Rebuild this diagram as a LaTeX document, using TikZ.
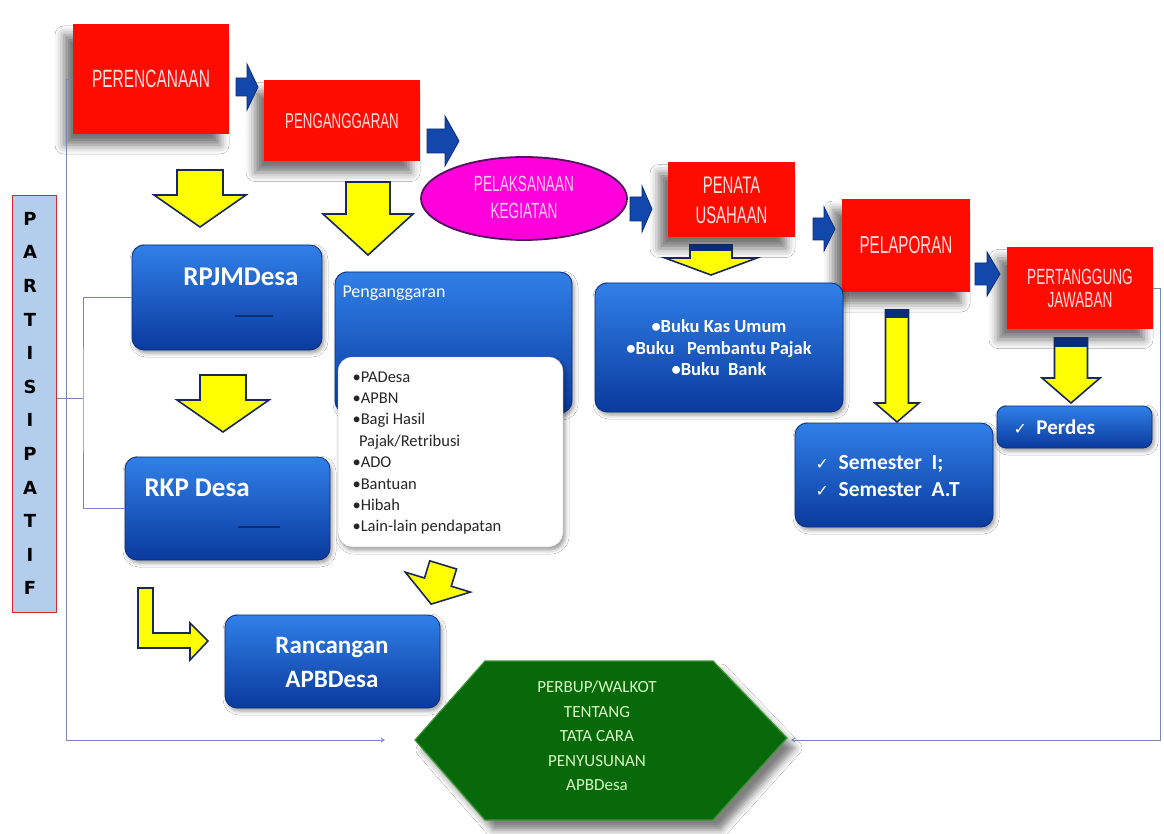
\documentclass[tikz,border=0pt]{standalone}
\usepackage{fontspec}
\setmainfont{Carlito}
\newfontfamily\cond[FakeStretch=0.62]{Liberation Sans}
\newfontfamily\dv{DejaVu Sans}
\usetikzlibrary{shadows.blur,calc,arrows.meta}
\definecolor{rbox}{RGB}{255,12,0}
\definecolor{rtxt}{RGB}{255,222,222}
\definecolor{btop}{RGB}{48,128,232}
\definecolor{bbot}{RGB}{10,58,158}
\definecolor{bedge}{RGB}{10,45,120}
\definecolor{yfill}{RGB}{255,255,0}
\definecolor{yedge}{RGB}{25,40,90}
\definecolor{connc}{RGB}{120,135,185}
\definecolor{magen}{RGB}{255,0,220}
\definecolor{magedge}{RGB}{80,20,90}
\definecolor{hexg}{RGB}{8,105,10}
\definecolor{hexe}{RGB}{60,150,50}
\definecolor{hext}{RGB}{215,250,195}
\definecolor{pbox}{RGB}{178,206,236}
\definecolor{pedge}{RGB}{215,40,40}
\definecolor{barc}{RGB}{18,72,172}
\newcommand\ydown[6]{%
  \draw[yarr] (#1-#3,#2) -- (#1+#3,#2) -- (#1+#3,#4) -- (#1+#5,#4) -- (#1,#6) -- (#1-#5,#4) -- (#1-#3,#4) -- cycle;}
\newcommand\bright[6]{%
  \draw[barr] (#1,#4-#5) -- (#2,#4-#5) -- (#2,#4-#6) -- (#3,#4) -- (#2,#4+#6) -- (#2,#4+#5) -- (#1,#4+#5) -- cycle;}
\begin{document}
\begin{tikzpicture}[x=1pt,y=-1pt,
  redbox/.style={fill=rbox, inner sep=0pt, text=rtxt, align=center,
    blur shadow={shadow xshift=-9pt, shadow yshift=-11pt, shadow blur radius=9pt, shadow opacity=55}},
  bluebox/.style={rounded corners=12pt, draw=bedge, line width=0.8pt, top color=btop, bottom color=bbot, inner sep=0pt,
    blur shadow={shadow xshift=2pt, shadow yshift=-3pt, shadow blur radius=4pt, shadow opacity=40}},
  wtxt/.style={text=white, font=\bfseries\fontsize{#1}{#1}\selectfont},
  yarr/.style={fill=yfill, draw=yedge, line width=1.6pt, line join=miter},
  barr/.style={fill=barc, draw=bedge, line width=0.8pt, line join=miter},
  connline/.style={draw=connc, line width=0.8pt},
  tipc/.style={-{To[length=4pt,width=5pt]}}
]
\useasboundingbox[fill=white] (0,0) rectangle (1164,834);

% ---------- red process boxes ----------
\node[redbox, minimum width=156pt, minimum height=110pt, font=\cond\fontsize{25}{28}\selectfont] (per) at (151,79) {PERENCANAAN};
\node[redbox, minimum width=156pt, minimum height=81pt, font=\cond\fontsize{21.4}{24}\selectfont] (peng) at (342,121) {PENGANGGARAN};
\node[redbox, minimum width=127pt, minimum height=75pt, font=\cond\fontsize{24}{30}\selectfont] (pen) at (731.5,200) {PENATA\\USAHAAN};
\node[redbox, minimum width=128pt, minimum height=93pt, font=\cond\fontsize{24.5}{27}\selectfont] (lap) at (906,245.5) {PELAPORAN};
\node[redbox, minimum width=146pt, minimum height=81pt, font=\cond\fontsize{22}{23}\selectfont] (pj) at (1080,288) {PERTANGGUNG\\JAWABAN};

% ---------- ellipse ----------
\draw[fill=magen, draw=magedge, line width=1.8pt] (524,198.5) ellipse [x radius=103, y radius=41.5];
\node[text={rgb,255:red,255;green,205;blue,245}, font=\cond\fontsize{22}{27}\selectfont, align=center] (pk) at (524,197) {PELAKSANAAN\\KEGIATAN};

% ---------- blue right arrows ----------
\bright{236}{247}{258}{87}{9}{23}
\bright{427}{445}{459}{141}{12}{25}
\bright{630}{642}{652}{209}{12}{23}
\bright{813}{824}{835}{229}{11}{22}
\bright{975}{987}{1000}{274}{11}{22}

% ---------- PARTISIPATIF ----------
\node[draw=pedge, line width=1.6pt, fill=pbox, minimum width=44pt, minimum height=417pt, inner sep=0pt] (part) at (34.5,404) {};
\node[font=\dv\bfseries\fontsize{18}{33.6}\selectfont, align=center, text=black] (partt) at (30,403.5) {P\\A\\R\\T\\I\\S\\I\\P\\A\\T\\I\\F};

% ---------- blue boxes ----------
\node[bluebox, minimum width=190pt, minimum height=105pt] (rpjm) at (227,297.5) {};
\node[wtxt=27] (rpjmt) at (241,277) {RPJMDesa};
\draw[bedge, line width=1.5pt] (235,316) -- (273,316);

\node[bluebox, minimum width=205pt, minimum height=103pt] (rkp) at (227.5,508.5) {};
\node[wtxt=27, anchor=west] (rkpt) at (141,488) {RKP Desa};
\draw[bedge, line width=1.5pt] (238,527) -- (280,527);

\node[bluebox, minimum width=237pt, minimum height=141pt] (angg) at (453.5,342.5) {};
\node[text=white, font=\fontsize{18}{18}\selectfont, anchor=west] (anggt) at (339,293) {Penganggaran};
\node[draw=gray!70, fill=white, rounded corners=14pt, minimum width=225pt, minimum height=190pt, inner sep=0pt,
      blur shadow={shadow xshift=2pt, shadow yshift=-3pt, shadow blur radius=4pt, shadow opacity=40}] (list) at (450.5,452) {};
\node[anchor=north west, align=left, font=\fontsize{16.5}{21.4}\selectfont, text=black!85] (listt) at (349,368)
  {•PADesa\\•APBN\\•Bagi Hasil\\\ \,Pajak/Retribusi\\•ADO\\•Bantuan\\•Hibah\\•Lain-lain pendapatan};

\node[bluebox, minimum width=248pt, minimum height=129pt] (buku) at (719,347.5) {};
\node[text=white, font=\bfseries\fontsize{18.5}{21.5}\selectfont, align=center] (bukut) at (719,348)
  {•Buku Kas Umum\\•Buku\ \ \ Pembantu Pajak\\•Buku\ \ Bank};

\node[bluebox, minimum width=198pt, minimum height=104pt] (sem) at (894,475) {};
\node[text=white, font=\bfseries\fontsize{21.5}{27}\selectfont, align=left, anchor=west] (semt) at (812,476.5)
  {{\dv\fontsize{16}{16}\selectfont ✓}\ \ Semester\ \ I;\\{\dv\fontsize{16}{16}\selectfont ✓}\ \ Semester\ \ A.T};

\node[bluebox, rounded corners=9pt, minimum width=155pt, minimum height=42pt] (perd) at (1074.5,427) {};
\node[text=white, font=\bfseries\fontsize{21}{21}\selectfont, anchor=west] (perdt) at (1010,427)
  {{\dv\fontsize{16}{16}\selectfont ✓}\ \ Perdes};

\node[bluebox, minimum width=215pt, minimum height=93pt] (ranc) at (332.5,661.5) {};
\node[text=white, font=\bfseries\fontsize{25}{34}\selectfont, align=center] (ranct) at (332,662) {Rancangan\\APBDesa};

% ---------- hexagon ----------
\path[fill=hexg, draw=hexe, line width=1.2pt,
      blur shadow={shadow xshift=8pt, shadow yshift=-10pt, shadow blur radius=7pt, shadow opacity=50}]
  (415,740) -- (485,661) -- (713,661) -- (787,738) -- (713,820) -- (485,820) -- cycle;
\node[minimum width=372pt, minimum height=159pt, inner sep=0pt] (hex) at (601,740) {};
\node[text=hext, font=\fontsize{17}{24.5}\selectfont, align=center] (hext) at (597,736)
  {PERBUP/WALKOT\\TENTANG\\TATA CARA\\PENYUSUNAN\\APBDesa};

% ---------- yellow arrows ----------
\ydown{200}{170}{23}{195}{46}{227}
\ydown{368}{182}{22}{214}{45}{255}
\ydown{223}{375}{23}{400}{46}{432}
\ydown{711}{245}{21}{258}{46}{275}
\fill[bedge] (690,245) rectangle (732,251);
\ydown{897}{310}{11.5}{403}{22}{422}
\fill[bedge] (885.5,310) rectangle (908.5,318);
\ydown{1071}{338}{16.5}{378}{29}{403}
\fill[bedge] (1054.5,338) rectangle (1087.5,347);
% L-shaped arrow
\draw[yarr] (138,588) -- (153,588) -- (153,633) -- (190,633) -- (190,623) -- (208,641) -- (190,660) -- (190,648) -- (138,648) -- cycle;
% tilted arrow
\begin{scope}[shift={(437,585)}, rotate=-17]
  \draw[yarr] (-14,-21) -- (14,-21) -- (14,-3) -- (34,-3) -- (0,20) -- (-34,-3) -- (-14,-3) -- cycle;
\end{scope}

% ---------- connectors ----------
\coordinate (bj) at (83,398);
\draw[connline] (part.east |- bj) -- (bj);
\draw[connline] (rpjm.west) -| (bj) |- (rkp.west);
\draw[connline, tipc, shorten >=30pt] (per.west) -- (66,79) |- (hex.west);
\draw[connline, tipc, shorten >=4pt] (pj.east) -- (1160,288) |- (hex.east);
\end{tikzpicture}
\end{document}
